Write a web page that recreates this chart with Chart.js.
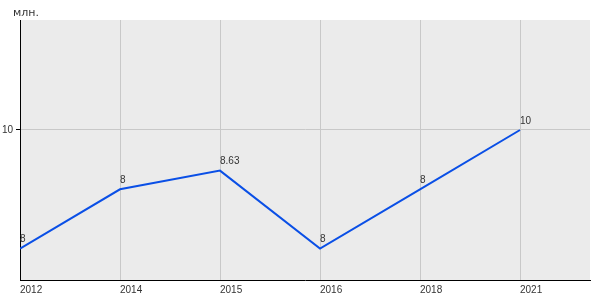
<!DOCTYPE html>
<html>
<head>
<meta charset="utf-8">
<script src="https://cdn.jsdelivr.net/npm/chart.js@4/dist/chart.umd.min.js"></script>
<style>
  html, body { margin: 0; padding: 0; background: #fff; }
  #wrap { width: 600px; height: 300px; }
</style>
</head>
<body>
<div id="wrap"><canvas id="chart" width="600" height="300"></canvas></div>
<script>
// Data ======================================
var years = ["2012", "2014", "2015", "2016", "2018", "2021"];
var values = [6, 8, 8.63, 6, 8, 10];
var pointLabels = ["8", "8", "8.63", "8", "8", "10"];
var yTicks = [10];
var unitLabel = "млн.";

var points = values.map(function (v, i) {
  return { x: i, y: v };
});

// Plot background ===========================
const plotBackground = {
  id: "plotBackground",
  beforeDraw(chart) {
    const { ctx, chartArea: { left, top, width, height } } = chart;
    ctx.save();
    ctx.fillStyle = "#ebebeb";
    ctx.fillRect(left, top, width, height);
    ctx.restore();
  },
};

// Value labels and unit =====================
const valueLabels = {
  id: "valueLabels",
  afterDatasetsDraw(chart) {
    const { ctx } = chart;
    ctx.save();
    ctx.font = "10px 'Liberation Sans', Arial, sans-serif";
    ctx.fillStyle = "#333";
    ctx.textAlign = "left";
    ctx.textBaseline = "bottom";
    chart.getDatasetMeta(0).data.forEach(function (pt, i) {
      ctx.fillText(pointLabels[i], pt.x, pt.y - 4);
    });
    ctx.font = "11px 'DejaVu Sans', Verdana, sans-serif";
    ctx.textBaseline = "alphabetic";
    ctx.fillText(unitLabel, 13, 16);
    ctx.restore();
  },
};

const config = {
  type: "line",
  data: {
    datasets: [
      {
        data: points,
        borderColor: "#0a4fe6",
        borderWidth: 2,
        pointRadius: 0,
        tension: 0,
        fill: false,
      },
    ],
  },
  options: {
    responsive: false,
    animation: false,
    layout: { padding: { top: 20, right: 10, left: 0, bottom: 0 } },
    plugins: {
      legend: { display: false },
      tooltip: { enabled: false },
    },
    scales: {
      x: {
        type: "linear",
        min: 0,
        max: 5.7,
        afterBuildTicks(scale) {
          scale.ticks = years.map(function (y, i) { return { value: i }; });
        },
        afterFit(scale) { scale.height = 20; },
        ticks: {
          align: "start",
          padding: 4,
          color: "#333",
          font: { family: "'Liberation Sans', Arial, sans-serif", size: 10 },
          maxRotation: 0,
          autoSkip: false,
          callback: function (v) { return years[v]; },
        },
        grid: { color: "#c8c8c8", lineWidth: 1, drawTicks: false },
        border: { color: "#000", width: 1 },
      },
      y: {
        min: 4.94,
        max: 13.71,
        afterBuildTicks(scale) {
          scale.ticks = yTicks.map(function (v) { return { value: v }; });
        },
        afterFit(scale) { scale.width = 20; },
        ticks: {
          padding: 3,
          color: "#333",
          font: { family: "'Liberation Sans', Arial, sans-serif", size: 10 },
          callback: function (v) { return String(v); },
        },
        grid: { color: "#c8c8c8", lineWidth: 1, tickLength: 4, tickColor: "#000" },
        border: { color: "#000", width: 1 },
      },
    },
  },
  plugins: [plotBackground, valueLabels],
};

new Chart(document.getElementById("chart"), config);
</script>
</body>
</html>
